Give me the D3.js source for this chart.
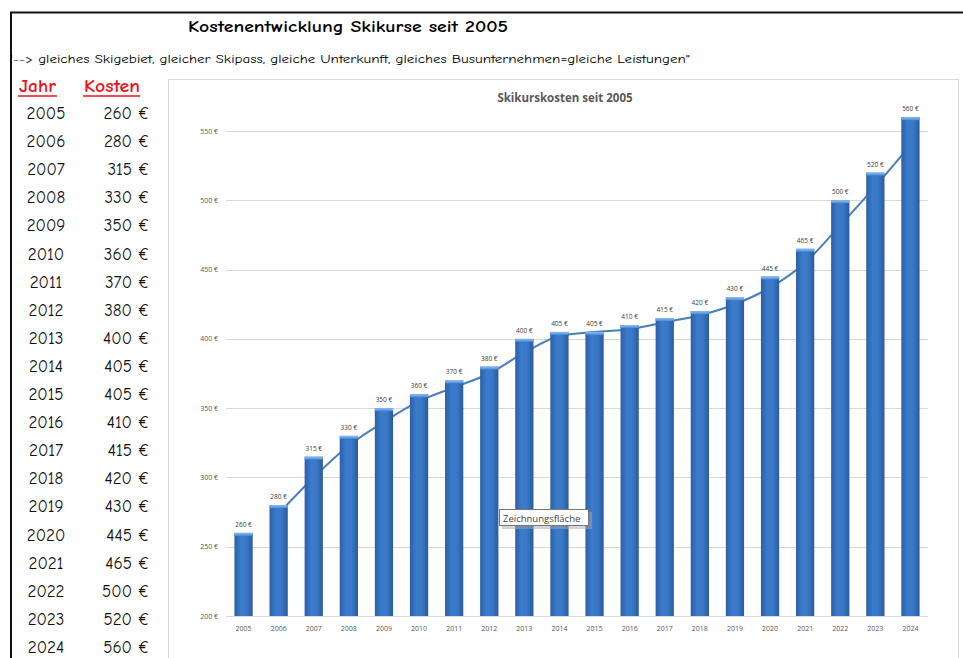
<!DOCTYPE html>
<html><head><meta charset="utf-8">
<script src="https://cdn.jsdelivr.net/npm/d3@7"></script>
<style>body{margin:0;background:#fff;}svg{display:block;}</style>
</head><body>
<svg id="c" width="963" height="658"></svg>
<script>
const years = ["2005","2006","2007","2008","2009","2010","2011","2012","2013","2014","2015","2016","2017","2018","2019","2020","2021","2022","2023","2024"];
const costs = [260,280,315,330,350,360,370,380,400,405,405,410,415,420,430,445,465,500,520,560];
// trend line (starts at 2006, runs behind the bars)
const trend = [null,274,300,323,340,355,365,375,390,402,405,407,412,417,425,437,455,482,510,540];
const yTicks = [200,250,300,350,400,450,500,550];
const mainTitle = "Kostenentwicklung Skikurse seit 2005";
const subTitle = "'--> gleiches Skigebiet, gleicher Skipass, gleiche Unterkunft, gleiches Busunternehmen=gleiche Leistungen\"";
const chartTitle = "Skikurskosten seit 2005";
const headers = ["Jahr","Kosten"];
const tooltipText = "Zeichnungsfläche";

const svg = d3.select("#c");
const hand = "'Comic Sans MS','Comic Neue','DejaVu Sans',sans-serif";

// outer frame
svg.append("line").attr("x1",10).attr("x2",963).attr("y1",12.5).attr("y2",12.5).attr("stroke","#111").attr("stroke-width",2);
svg.append("line").attr("x1",11).attr("x2",11).attr("y1",12).attr("y2",658).attr("stroke","#111").attr("stroke-width",2);

svg.append("text").attr("x",348).attr("y",32).attr("text-anchor","middle")
  .attr("font-family",hand).attr("font-weight","bold").attr("font-size",16)
  .attr("textLength",320).attr("lengthAdjust","spacingAndGlyphs").text(mainTitle);
svg.append("text").attr("x",10).attr("y",63).attr("font-family",hand).attr("font-size",12.5)
  .attr("textLength",680).attr("lengthAdjust","spacingAndGlyphs").text(subTitle);

// table
const rowY = d3.scalePoint().domain(years).range([119,653]);
svg.append("text").attr("x",19).attr("y",92).attr("font-family",hand).attr("font-weight","bold")
  .attr("font-size",17).attr("fill","#e8141b").attr("textLength",37).attr("lengthAdjust","spacingAndGlyphs").text(headers[0]);
svg.append("line").attr("x1",18).attr("x2",57).attr("y1",96).attr("y2",96).attr("stroke","#e8141b").attr("stroke-width",1.5);
svg.append("text").attr("x",84).attr("y",92).attr("font-family",hand).attr("font-weight","bold")
  .attr("font-size",17).attr("fill","#e8141b").attr("textLength",56).attr("lengthAdjust","spacingAndGlyphs").text(headers[1]);
svg.append("line").attr("x1",83).attr("x2",140).attr("y1",96).attr("y2",96).attr("stroke","#e8141b").attr("stroke-width",1.5);
svg.selectAll("text.yr").data(years).enter().append("text").attr("class","yr")
  .attr("x",46).attr("y",d=>rowY(d)).attr("text-anchor","middle")
  .attr("font-family",hand).attr("font-size",17).attr("fill","#111").text(d=>d);
svg.selectAll("text.cv").data(costs).enter().append("text").attr("class","cv")
  .attr("x",149).attr("y",(d,i)=>rowY(years[i])).attr("text-anchor","end")
  .attr("font-family",hand).attr("font-size",17).attr("fill","#111").text(d=>d+" €");

// chart panel
svg.append("rect").attr("x",168.5).attr("y",79.5).attr("width",790).attr("height",600)
  .attr("fill","#fff").attr("stroke","#d9d9d9");
svg.append("text").attr("x",565).attr("y",102).attr("text-anchor","middle")
  .attr("font-family","'Open Sans','DejaVu Sans',sans-serif").attr("font-weight","bold")
  .attr("font-size",11.5).attr("fill","#595959").text(chartTitle);

const x = d3.scaleBand().domain(years).range([226,928]).paddingInner(0.48).paddingOuter(0.24);
const y = d3.scaleLinear().domain([200,550]).range([616,131]);

const defs = svg.append("defs");
const g = defs.append("linearGradient").attr("id","bar").attr("x1","0").attr("x2","1").attr("y1","0").attr("y2","0");
g.append("stop").attr("offset","0").attr("stop-color","#2c5fa6");
g.append("stop").attr("offset","0.35").attr("stop-color","#3b7bcb");
g.append("stop").attr("offset","0.65").attr("stop-color","#3a78c7");
g.append("stop").attr("offset","1").attr("stop-color","#2a5a9d");
const gc = defs.append("linearGradient").attr("id","cap").attr("x1","0").attr("x2","0").attr("y1","0").attr("y2","1");
gc.append("stop").attr("offset","0").attr("stop-color","#8ec0f5");
gc.append("stop").attr("offset","1").attr("stop-color","#4a8ad6");

// gridlines + y labels
const axisFont = "'Open Sans','DejaVu Sans',sans-serif";
svg.append("g").selectAll("line").data(yTicks).enter().append("line")
  .attr("x1",226).attr("x2",928).attr("y1",d=>Math.round(y(d))+0.5).attr("y2",d=>Math.round(y(d))+0.5)
  .attr("stroke","#d9d9d9").attr("stroke-width",1);
svg.append("g").selectAll("text").data(yTicks).enter().append("text")
  .attr("x",218).attr("y",d=>y(d)+2.5).attr("text-anchor","end")
  .attr("font-family",axisFont).attr("font-size",7).attr("fill","#595959").text(d=>d+" €");
svg.append("g").selectAll("text").data(years).enter().append("text")
  .attr("x",d=>x(d)+x.bandwidth()/2).attr("y",631).attr("text-anchor","middle")
  .attr("font-family",axisFont).attr("font-size",7).attr("fill","#595959").text(d=>d);

// trend line (behind bars)
const pts = years.map((d,i)=>[x(d)+x.bandwidth()/2, trend[i]]).filter(p=>p[1]!=null).map(p=>[p[0], y(p[1])]);
svg.append("path").attr("d",d3.line().curve(d3.curveMonotoneX)(pts)).attr("fill","none").attr("stroke","#4a7ebb").attr("stroke-width",2);

// bars
const bars = svg.append("g");
bars.selectAll("rect.b").data(costs).enter().append("rect").attr("class","b")
  .attr("x",(d,i)=>x(years[i])).attr("y",d=>y(d)).attr("width",x.bandwidth()).attr("height",d=>y(200)-y(d))
  .attr("fill","url(#bar)");
bars.selectAll("rect.cap").data(costs).enter().append("rect").attr("class","cap")
  .attr("x",(d,i)=>x(years[i])).attr("y",d=>y(d)).attr("width",x.bandwidth()).attr("height",3)
  .attr("fill","url(#cap)");
bars.selectAll("text").data(costs).enter().append("text")
  .attr("x",(d,i)=>x(years[i])+x.bandwidth()/2).attr("y",d=>y(d)-6).attr("text-anchor","middle")
  .attr("font-family",axisFont).attr("font-size",6.5).attr("fill","#404040").text(d=>d+" €");

// tooltip artifact
const tip = svg.append("g");
tip.append("rect").attr("x",502).attr("y",512).attr("width",90).attr("height",17).attr("fill","#aaa").attr("opacity",0.5);
tip.append("rect").attr("x",499.5).attr("y",509.5).attr("width",89).attr("height",16).attr("fill","#fff").attr("stroke","#777");
tip.append("text").attr("x",503).attr("y",521.5).attr("font-family",axisFont).attr("font-size",9.5).attr("fill","#444").text(tooltipText);
</script>
</body></html>
